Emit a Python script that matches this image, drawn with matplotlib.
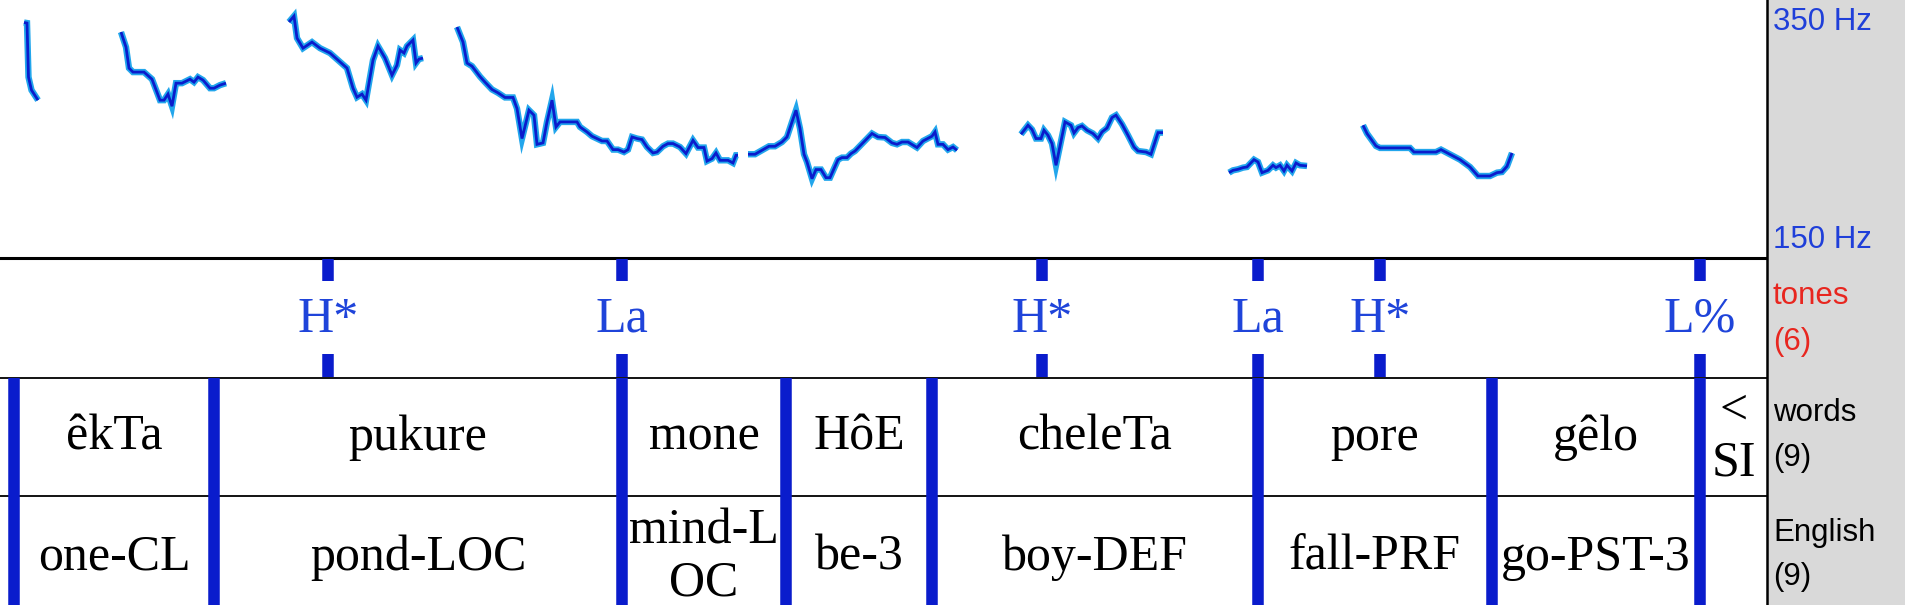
import numpy as np
import matplotlib.pyplot as plt
from matplotlib.patches import Rectangle

# pitch track, one pair of lists per voiced stretch (time in s, F0 in Hz)
seg1_t = [0.024, 0.027, 0.0285, 0.0315, 0.038]
seg1_hz = [332.5, 332.1, 290.1, 280.0, 272.2]

seg2_t = [0.121, 0.126, 0.129, 0.133, 0.144, 0.152, 0.160, 0.164, 0.168, 0.172,
          0.176, 0.182, 0.190, 0.194, 0.198, 0.203, 0.210, 0.214, 0.220, 0.226]
seg2_hz = [325.1, 313.4, 297.1, 294.0, 294.0, 288.5, 272.2, 272.2, 276.9, 267.5,
           285.4, 285.4, 288.5, 286.2, 290.1, 287.8, 281.5, 281.5, 283.9, 285.4]

seg3_t = [0.289, 0.294, 0.297, 0.303, 0.312, 0.320, 0.330, 0.347, 0.353, 0.357,
          0.362, 0.366, 0.373, 0.378, 0.385, 0.392, 0.397, 0.400, 0.404, 0.407,
          0.413, 0.416, 0.419, 0.423]
seg3_hz = [332.9, 337.5, 320.4, 312.6, 317.3, 312.6, 308.8, 297.1, 281.5, 274.5,
           276.9, 272.2, 303.3, 314.2, 304.9, 291.6, 299.4, 311.1, 308.8, 314.2,
           318.9, 301.0, 304.1, 304.9]

seg4_t = [0.457, 0.463, 0.467, 0.472, 0.480, 0.485, 0.492, 0.498, 0.505, 0.513,
          0.517, 0.522, 0.529, 0.534, 0.537, 0.543, 0.547, 0.552, 0.556, 0.560,
          0.577, 0.580, 0.587, 0.592, 0.602, 0.607, 0.613, 0.618, 0.624, 0.628,
          0.632, 0.637, 0.642, 0.647, 0.653, 0.657, 0.663, 0.668, 0.673, 0.680,
          0.686, 0.693, 0.698, 0.704, 0.707, 0.712, 0.716, 0.720, 0.728, 0.733,
          0.736, 0.738]
seg4_hz = [329.0, 317.3, 301.0, 298.6, 290.5, 286.2, 280.5, 277.9, 274.3, 274.3,
           265.7, 242.4, 264.4, 260.5, 237.9, 239.0, 255.3, 272.2, 251.4, 255.3,
           255.3, 251.4, 247.5, 244.2, 240.5, 240.5, 233.8, 233.8, 231.9, 233.8,
           243.6, 242.4, 241.6, 235.8, 231.2, 231.9, 236.4, 238.5, 238.5, 235.8,
           230.7, 241.0, 235.4, 235.4, 224.9, 226.8, 231.2, 225.5, 225.5, 223.4,
           229.4, 229.4]

seg5_t = [0.748, 0.755, 0.762, 0.769, 0.775, 0.782, 0.787, 0.792, 0.796, 0.800,
          0.804, 0.807, 0.812, 0.816, 0.821, 0.826, 0.830, 0.838, 0.842, 0.847,
          0.851, 0.855, 0.872, 0.878, 0.885, 0.892, 0.897, 0.902, 0.908, 0.917,
          0.923, 0.932, 0.935, 0.938, 0.943, 0.948, 0.953, 0.957]
seg5_hz = [230.2, 230.2, 233.3, 236.4, 236.4, 239.7, 243.6, 255.3, 264.4, 250.2,
           230.2, 224.2, 211.2, 218.3, 218.3, 212.0, 212.0, 226.0, 227.6, 227.6,
           230.7, 232.7, 246.3, 243.6, 243.2, 239.0, 237.9, 239.7, 239.7, 235.4,
           240.5, 244.2, 247.5, 237.9, 237.9, 233.8, 235.8, 233.3]

seg6_t = [1.021, 1.028, 1.032, 1.036, 1.041, 1.044, 1.048, 1.052, 1.056, 1.065,
          1.071, 1.074, 1.078, 1.082, 1.087, 1.093, 1.098, 1.102, 1.107, 1.112,
          1.116, 1.122, 1.128, 1.134, 1.138, 1.146, 1.151, 1.158, 1.163]
seg6_hz = [245.7, 252.7, 249.4, 242.4, 242.4, 248.8, 244.9, 238.5, 221.6, 255.3,
           252.7, 246.7, 250.9, 252.2, 248.8, 246.3, 242.4, 247.5, 250.6, 258.7,
           260.5, 253.5, 244.9, 235.8, 232.7, 231.9, 230.2, 247.0, 247.0]

seg7_t = [1.229, 1.233, 1.238, 1.243, 1.247, 1.254, 1.258, 1.262, 1.268, 1.273,
          1.276, 1.280, 1.284, 1.287, 1.292, 1.296, 1.300, 1.307]
seg7_hz = [215.9, 217.7, 218.5, 219.8, 220.3, 226.0, 224.2, 215.9, 217.7, 221.6,
           219.8, 221.6, 217.2, 221.6, 217.2, 223.4, 221.6, 221.1]

seg8_t = [1.363, 1.367, 1.376, 1.380, 1.410, 1.414, 1.436, 1.441, 1.460, 1.470,
          1.478, 1.490, 1.497, 1.502, 1.507, 1.512]
seg8_hz = [252.7, 246.3, 236.6, 235.1, 235.1, 231.9, 231.9, 233.8, 226.0, 220.3,
           213.3, 213.3, 215.9, 216.4, 220.8, 231.2]

segments = [(seg1_t, seg1_hz), (seg2_t, seg2_hz), (seg3_t, seg3_hz), (seg4_t, seg4_hz),
            (seg5_t, seg5_hz), (seg6_t, seg6_hz), (seg7_t, seg7_hz), (seg8_t, seg8_hz)]

f0_min, f0_max = 150, 350
t_start, t_end = 0.0, 1.767

# TextGrid tiers
tone_times = [0.328, 0.622, 1.042, 1.258, 1.380, 1.700]
tone_labels = ['H*', 'La', 'H*', 'La', 'H*', 'L%']
word_bounds = [0.0, 0.014, 0.214, 0.622, 0.786, 0.932, 1.258, 1.492, 1.700, 1.767]
word_labels = ['', 'êkTa', 'pukure', 'mone', 'HôE', 'cheleTa', 'pore', 'gêlo', '<\nSI']
eng_labels = ['', 'one-CL', 'pond-LOC', 'mind-L\nOC', 'be-3', 'boy-DEF', 'fall-PRF', 'go-PST-3', '']

# layout (pixels)
W, H = 1906, 605
DPI = 100
PANEL_X = 1767
PITCH_BOT = 257.5
WORDS_TOP = 377.5
ENG_TOP = 496
BOUND = '#0a1ccc'
TONE_COL = '#1f44da'
SERIF = 'Liberation Serif'
SANS = 'Liberation Sans'
FS = 36
LINE_GAP = 52

fig = plt.figure(figsize=(W / DPI, H / DPI), dpi=DPI)
fig.patch.set_facecolor('white')

# grey label strip on the right
fig.add_artist(Rectangle(((PANEL_X + 1) / W, 0), 1 - (PANEL_X + 1) / W, 1,
                         transform=fig.transFigure, color='#d9d9d9', zorder=0))

# tiers axes: x in seconds, y in layout pixels
ax = fig.add_axes([0, 0, PANEL_X / W, 1])
ax.set_xlim(t_start, t_end)
ax.set_ylim(H, 0)
ax.axis('off')

ax.axhline(PITCH_BOT, color='black', lw=2.2)
ax.axhline(WORDS_TOP, color='black', lw=1.3)
ax.axhline(ENG_TOP, color='black', lw=1.3)
ax.axvline(t_end, color='black', lw=1.8, clip_on=False)

# tones (point tier)
for t, lab in zip(tone_times, tone_labels):
    ax.vlines(t, PITCH_BOT + 1.5, 281, color=BOUND, lw=8.3, capstyle='butt')
    ax.vlines(t, 354, WORDS_TOP - 1, color=BOUND, lw=8.3, capstyle='butt')
    ax.text(t, 332, lab, ha='center', va='baseline', color=TONE_COL,
            fontsize=FS, family=SERIF)


def interval_tier(labels, top, bottom, base):
    for b in word_bounds[1:-1]:
        ax.vlines(b, top, bottom, color=BOUND, lw=8.3, capstyle='butt')
    for i, lab in enumerate(labels):
        if not lab:
            continue
        mid = (word_bounds[i] + word_bounds[i + 1]) / 2
        lines = lab.split('\n')
        for k, ln in enumerate(lines):
            y = base + (k - (len(lines) - 1) / 2) * LINE_GAP
            ax.text(mid, y, ln, ha='center', va='baseline', color='black',
                    fontsize=FS, family=SERIF)


interval_tier(word_labels, WORDS_TOP, ENG_TOP, 450)
interval_tier(eng_labels, ENG_TOP, H + 10, 570)

# pitch panel
axp = fig.add_axes([0, (H - PITCH_BOT) / H, PANEL_X / W, PITCH_BOT / H])
axp.set_xlim(t_start, t_end)
axp.set_ylim(f0_min, f0_max)
axp.axis('off')
axp.set_zorder(3)
for st, sh in segments:
    axp.plot(st, sh, color='#22a6ec', lw=4.6, solid_joinstyle='miter', solid_capstyle='butt')
    axp.plot(st, sh, color='#0a1ccc', lw=2.0, solid_joinstyle='miter', solid_capstyle='butt')

# labels in the grey strip
lx = 1773 / W
fig.text(lx, 1 - 30 / H, '%d Hz' % f0_max, color='#1f3fd9', fontsize=22.5, family=SANS, va='baseline')
fig.text(lx, 1 - 248 / H, '%d Hz' % f0_min, color='#1f3fd9', fontsize=22.5, family=SANS, va='baseline')
fig.text(lx, 1 - 304 / H, 'tones', color='#e8261f', fontsize=22.5, family=SANS, va='baseline')
fig.text(lx, 1 - 350 / H, '(%d)' % len(tone_labels), color='#e8261f', fontsize=22.5, family=SANS, va='baseline')
fig.text(lx, 1 - 421 / H, 'words', color='black', fontsize=22.5, family=SANS, va='baseline')
fig.text(lx, 1 - 466 / H, '(%d)' % len(word_labels), color='black', fontsize=22.5, family=SANS, va='baseline')
fig.text(lx, 1 - 541 / H, 'English', color='black', fontsize=22.5, family=SANS, va='baseline')
fig.text(lx, 1 - 585 / H, '(%d)' % len(eng_labels), color='black', fontsize=22.5, family=SANS, va='baseline')

fig.savefig('out.png', dpi=DPI)
